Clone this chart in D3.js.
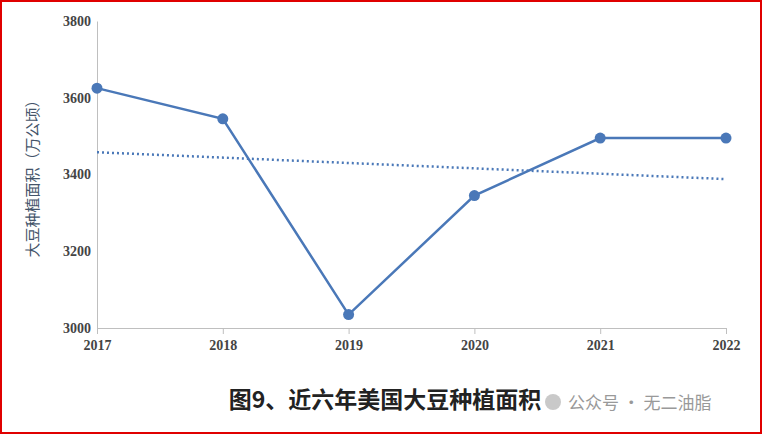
<!DOCTYPE html>
<html><head><meta charset="utf-8">
<script src="https://cdn.jsdelivr.net/npm/d3@7"></script>
<style>body{margin:0;background:#fff}</style>
</head><body>
<svg id="c" width="762" height="434"></svg>
<script>
var years = ['2017', '2018', '2019', '2020', '2021', '2022']
var area = [3625, 3545, 3035, 3345, 3495, 3495]
var trend = [3458, 3388]
var yTicks = [3000, 3200, 3400, 3600, 3800]

var svg = d3.select('#c')
svg.append('rect').attr('x', 1).attr('y', 1).attr('width', 760).attr('height', 432)
  .attr('fill', '#fff').attr('stroke', '#e00000').attr('stroke-width', 2)

var x = d3.scalePoint().domain(years).range([97, 726])
var y = d3.scaleLinear().domain([3000, 3800]).range([328, 21])
var serif = '"Liberation Serif","DejaVu Serif",serif'

var ya = svg.append('g').attr('transform', 'translate(97,0)')
  .call(d3.axisLeft(y).tickValues(yTicks).tickFormat(d3.format('d')).tickSize(0).tickPadding(6))
ya.select('.domain').attr('stroke', '#bfbfbf')
ya.selectAll('text').attr('font-family', serif).attr('font-size', 14).attr('font-weight', 'bold').attr('fill', '#444')

var xa = svg.append('g').attr('transform', 'translate(0,328)')
  .call(d3.axisBottom(x).tickSizeInner(6).tickSizeOuter(0).tickPadding(6))
xa.select('.domain').attr('stroke', '#bfbfbf')
xa.selectAll('line').attr('stroke', '#bfbfbf')
xa.selectAll('text').attr('font-family', serif).attr('font-size', 14).attr('font-weight', 'bold').attr('fill', '#444')

svg.append('line')
  .attr('x1', x(years[0])).attr('y1', y(trend[0]))
  .attr('x2', x(years[5])).attr('y2', y(trend[1]))
  .attr('stroke', '#4a78b8').attr('stroke-width', 2.5).attr('stroke-dasharray', '2,3')

var line = d3.line().x(function (d, i) { return x(years[i]) }).y(function (d) { return y(d) })
svg.append('path').datum(area).attr('d', line)
  .attr('fill', 'none').attr('stroke', '#4a78b8').attr('stroke-width', 2.5)

svg.selectAll('circle').data(area).enter().append('circle')
  .attr('cx', function (d, i) { return x(years[i]) })
  .attr('cy', function (d) { return y(d) })
  .attr('r', 5.5).attr('fill', '#4a78b8')

svg.append('text').attr('transform', 'translate(38,175) rotate(-90)')
  .attr('text-anchor', 'middle').attr('font-family', '"Noto Sans CJK SC"')
  .attr('font-size', 15).attr('fill', '#44546a').text('大豆种植面积（万公顷）')

svg.append('text').attr('x', 385).attr('y', 408).attr('text-anchor', 'middle')
  .attr('font-family', '"Noto Sans CJK SC"').attr('font-weight', 'bold')
  .attr('font-size', 23).attr('fill', '#222').text('图9、近六年美国大豆种植面积')

svg.append('circle').attr('cx', 553).attr('cy', 402).attr('r', 8).attr('fill', '#bbb').attr('opacity', 0.8)
svg.append('text').attr('x', 568).attr('y', 409)
  .attr('font-family', '"Noto Sans CJK SC"').attr('font-size', 17)
  .attr('fill', '#999').text('公众号 · 无二油脂')
</script>
</body></html>
